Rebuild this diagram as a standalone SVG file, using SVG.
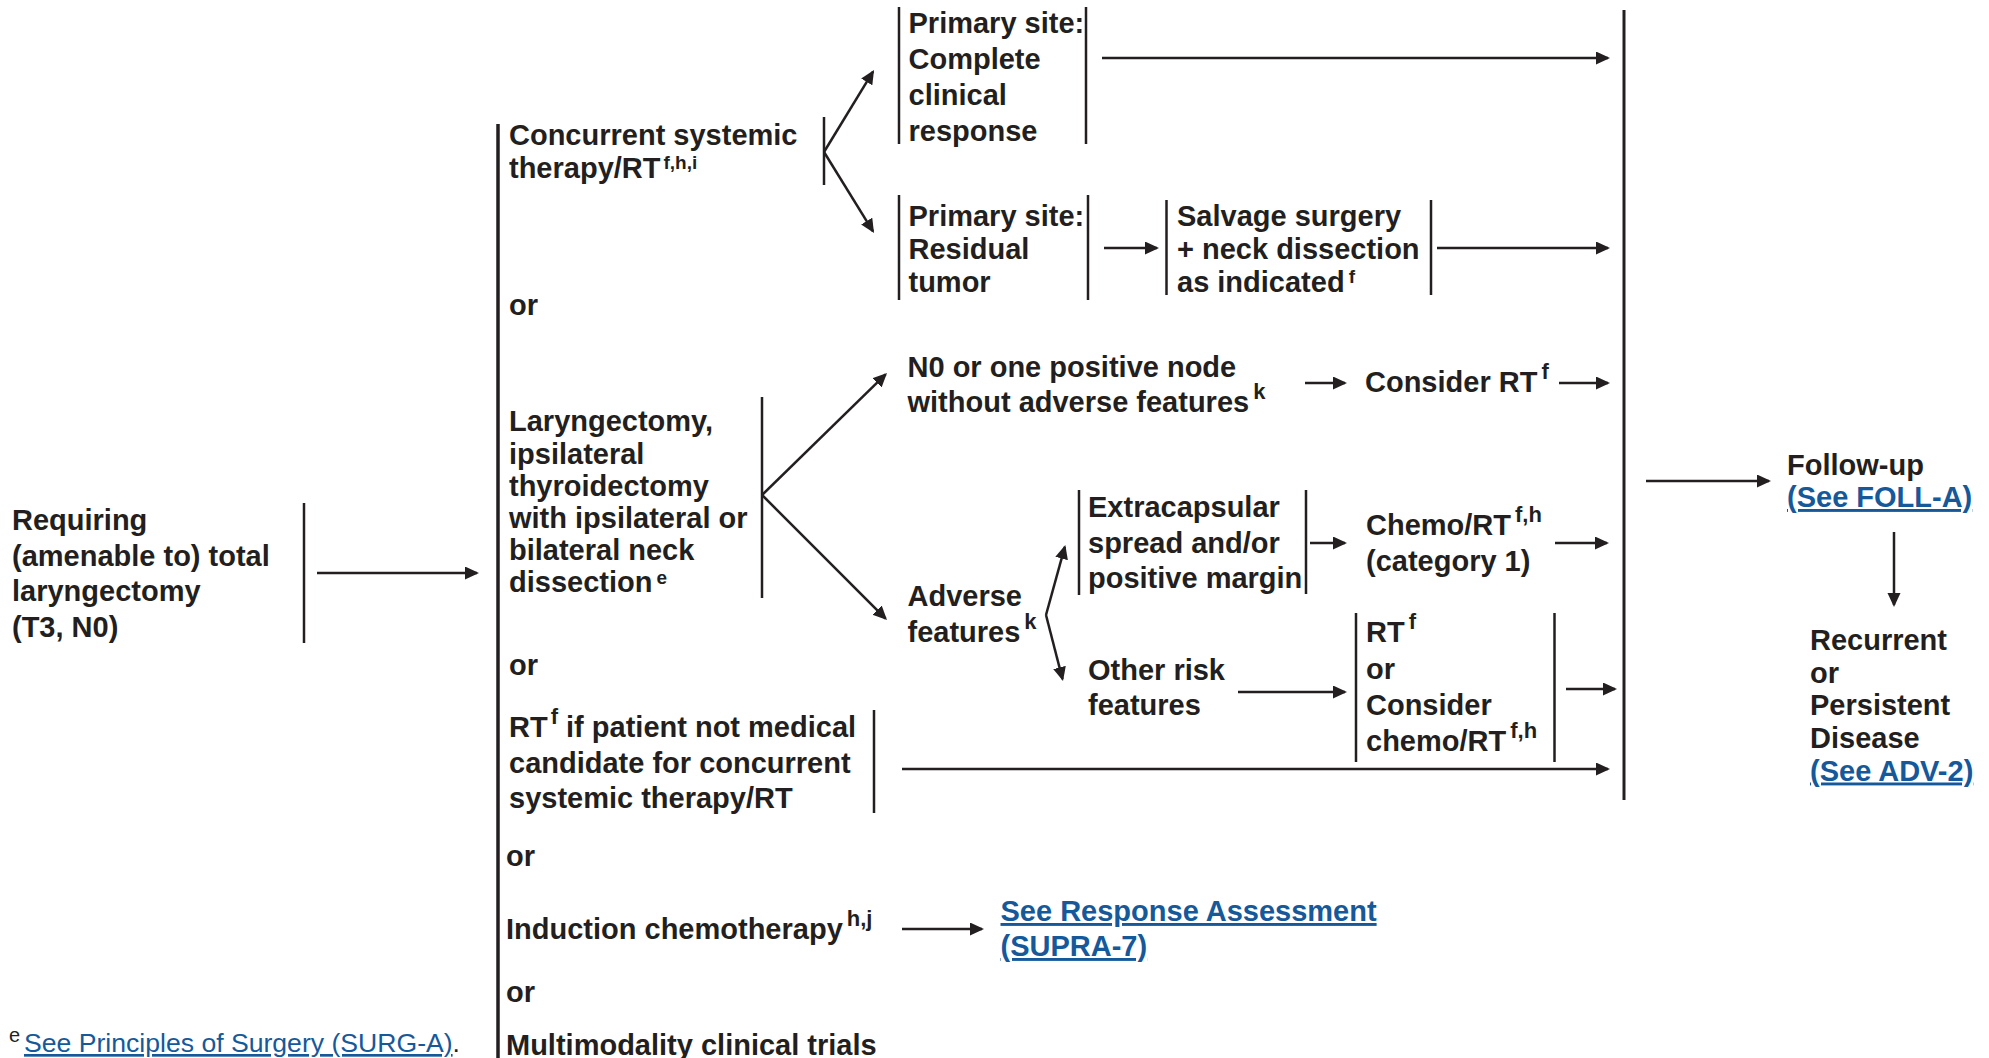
<svg xmlns="http://www.w3.org/2000/svg" width="1989" height="1058" viewBox="0 0 1989 1058">
  <style>
    text { font-family: "Liberation Sans", Arial, Helvetica, sans-serif; font-weight: bold; font-size: 29px; fill: #231f20; }
    .s { font-size: 22px; }
    .st { font-size: 19px; }
    .lk { fill: #15599b; text-decoration: underline; }
    .fn { font-weight: normal; font-size: 26.6px; }
    .fs { font-weight: normal; font-size: 20px; }
    .bar { stroke: #231f20; stroke-width: 2.5; fill: none; }
    .main { stroke-width: 3.5; }
    .ln { stroke: #231f20; stroke-width: 2.5; fill: none; }
    .arr { marker-end: url(#ah); }
  </style>
  <defs>
    <marker id="ah" markerUnits="userSpaceOnUse" markerWidth="15" markerHeight="14" refX="12" refY="6.5" orient="auto">
      <path d="M0,0 L14,6.5 L0,13 Z" fill="#231f20"/>
    </marker>
  </defs>
  <rect width="1989" height="1058" fill="#ffffff"/>

  <!-- entry condition -->
  <g id="n-start">
    <text x="12" y="530">Requiring</text>
    <text x="12" y="565.5">(amenable to) total</text>
    <text x="12" y="601">laryngectomy</text>
    <text x="12" y="636.5">(T3, N0)</text>
    <line class="bar" x1="304" y1="503" x2="304" y2="643"/>
  </g>

  <!-- bracket of primary treatment options -->
  <g id="n-options">
    <line class="bar main" x1="498" y1="124" x2="498" y2="1058"/>
    <text x="509" y="315">or</text>
    <text x="509" y="675">or</text>
    <text x="506" y="866">or</text>
    <text x="506" y="1002">or</text>
  </g>

  <g id="n-concurrent">
    <text x="509" y="145">Concurrent systemic</text>
    <text x="509" y="178">therapy/RT<tspan class="st" dx="3" dy="-9">f,h,i</tspan></text>
    <line class="bar" x1="824" y1="117" x2="824" y2="185"/>
  </g>

  <g id="n-laryngectomy">
    <text x="509" y="431">Laryngectomy,</text>
    <text x="509" y="463.5">ipsilateral</text>
    <text x="509" y="496">thyroidectomy</text>
    <text x="509" y="528">with ipsilateral or</text>
    <text x="509" y="560">bilateral neck</text>
    <text x="509" y="592">dissection<tspan class="st" dx="4" dy="-8">e</tspan></text>
    <line class="bar" x1="762" y1="397" x2="762" y2="598"/>
  </g>

  <g id="n-rt-alone">
    <text x="509" y="737">RT<tspan class="s" dx="3" dy="-13">f</tspan><tspan dy="13"> if patient not medical</tspan></text>
    <text x="509" y="772.5">candidate for concurrent</text>
    <text x="509" y="808">systemic therapy/RT</text>
    <line class="bar" x1="874" y1="710" x2="874" y2="813"/>
  </g>

  <g id="n-induction">
    <text x="506" y="939">Induction chemotherapy<tspan class="s" dx="4" dy="-13">h,j</tspan></text>
  </g>

  <g id="n-trials">
    <text x="506" y="1055">Multimodality clinical trials</text>
  </g>

  <g id="n-complete">
    <line class="bar" x1="899" y1="7" x2="899" y2="144"/>
    <text x="908.5" y="33">Primary site:</text>
    <text x="908.5" y="69">Complete</text>
    <text x="908.5" y="105">clinical</text>
    <text x="908.5" y="141">response</text>
    <line class="bar" x1="1086" y1="7" x2="1086" y2="144"/>
  </g>

  <g id="n-residual">
    <line class="bar" x1="899" y1="195" x2="899" y2="300"/>
    <text x="908.5" y="226">Primary site:</text>
    <text x="908.5" y="259">Residual</text>
    <text x="908.5" y="292">tumor</text>
    <line class="bar" x1="1088" y1="195" x2="1088" y2="300"/>
  </g>

  <g id="n-salvage">
    <line class="bar" x1="1166.5" y1="200" x2="1166.5" y2="295"/>
    <text x="1177" y="226">Salvage surgery</text>
    <text x="1177" y="259">+ neck dissection</text>
    <text x="1177" y="292">as indicated<tspan class="st" dx="4" dy="-9">f</tspan></text>
    <line class="bar" x1="1431" y1="200" x2="1431" y2="295"/>
  </g>

  <g id="n-n0">
    <text x="907.5" y="377">N0 or one positive node</text>
    <text x="907.5" y="412">without adverse features<tspan class="s" dx="4" dy="-13">k</tspan></text>
  </g>

  <g id="n-consider-rt">
    <text x="1365" y="392">Consider RT<tspan class="s" dx="4" dy="-13">f</tspan></text>
  </g>

  <g id="n-adverse">
    <text x="907.5" y="606">Adverse</text>
    <text x="907.5" y="642">features<tspan class="s" dx="4" dy="-13">k</tspan></text>
  </g>

  <g id="n-extracapsular">
    <line class="bar" x1="1079" y1="490" x2="1079" y2="595"/>
    <text x="1088" y="517">Extracapsular</text>
    <text x="1088" y="552.5">spread and/or</text>
    <text x="1088" y="588">positive margin</text>
    <line class="bar" x1="1306" y1="490" x2="1306" y2="594"/>
  </g>

  <g id="n-chemo">
    <text x="1366" y="535">Chemo/RT<tspan class="s" dx="4" dy="-13">f,h</tspan></text>
    <text x="1366" y="571">(category 1)</text>
  </g>

  <g id="n-other">
    <text x="1088" y="680">Other risk</text>
    <text x="1088" y="715">features</text>
  </g>

  <g id="n-rt-or">
    <line class="bar" x1="1356" y1="613" x2="1356" y2="762"/>
    <text x="1366" y="642">RT<tspan class="s" dx="4" dy="-13">f</tspan></text>
    <text x="1366" y="678.5">or</text>
    <text x="1366" y="715">Consider</text>
    <text x="1366" y="750.5">chemo/RT<tspan class="s" dx="4" dy="-13">f,h</tspan></text>
    <line class="bar" x1="1554.5" y1="613" x2="1554.5" y2="762"/>
  </g>

  <g id="n-response">
    <text class="lk" x="1000.5" y="921">See Response Assessment</text>
    <text class="lk" x="1000.5" y="956">(SUPRA-7)</text>
  </g>

  <g id="n-followup">
    <text x="1787" y="475">Follow-up</text>
    <text class="lk" x="1787" y="507">(See FOLL-A)</text>
  </g>

  <g id="n-recurrent">
    <text x="1810" y="650">Recurrent</text>
    <text x="1810" y="682.5">or</text>
    <text x="1810" y="715">Persistent</text>
    <text x="1810" y="748">Disease</text>
    <text class="lk" x="1810" y="780.5">(See ADV-2)</text>
  </g>

  <g id="n-footnote">
    <text class="fs" x="9" y="1042">e</text>
    <text class="fn" x="24" y="1052"><tspan class="lk">See Principles of Surgery (SURG-A)</tspan>.</text>
  </g>

  <!-- connectors -->
  <g id="connectors">
    <line class="ln arr" x1="317" y1="573" x2="477" y2="573"/>

    <line class="ln arr" x1="824" y1="152" x2="873" y2="71.7"/>
    <line class="ln arr" x1="824" y1="152" x2="873" y2="231.3"/>

    <line class="ln arr" x1="1102" y1="58" x2="1608" y2="58"/>
    <line class="ln arr" x1="1104" y1="248" x2="1157" y2="248"/>
    <line class="ln arr" x1="1437" y1="248" x2="1608" y2="248"/>

    <line class="ln arr" x1="762" y1="495" x2="885.6" y2="374.4"/>
    <line class="ln arr" x1="762" y1="495" x2="885.6" y2="618.6"/>

    <line class="ln arr" x1="1305" y1="383" x2="1345" y2="383"/>
    <line class="ln arr" x1="1559" y1="383" x2="1608" y2="383"/>

    <line class="ln arr" x1="1046" y1="615" x2="1064.8" y2="546.9"/>
    <line class="ln arr" x1="1046" y1="615" x2="1062.5" y2="679.1"/>

    <line class="ln arr" x1="1310" y1="543" x2="1345" y2="543"/>
    <line class="ln arr" x1="1555" y1="543" x2="1607" y2="543"/>

    <line class="ln arr" x1="1238" y1="692" x2="1345" y2="692"/>
    <line class="ln arr" x1="1566" y1="689" x2="1615" y2="689"/>

    <line class="ln arr" x1="902" y1="769" x2="1608" y2="769"/>
    <line class="ln arr" x1="902" y1="929" x2="982" y2="929"/>

    <!-- collecting bar leading to follow-up -->
    <line class="ln" style="stroke-width:3" x1="1624" y1="10" x2="1624" y2="800"/>
    <line class="ln arr" x1="1646" y1="481" x2="1769" y2="481"/>
    <line class="ln arr" x1="1894" y1="532" x2="1894" y2="605"/>
  </g>
</svg>
